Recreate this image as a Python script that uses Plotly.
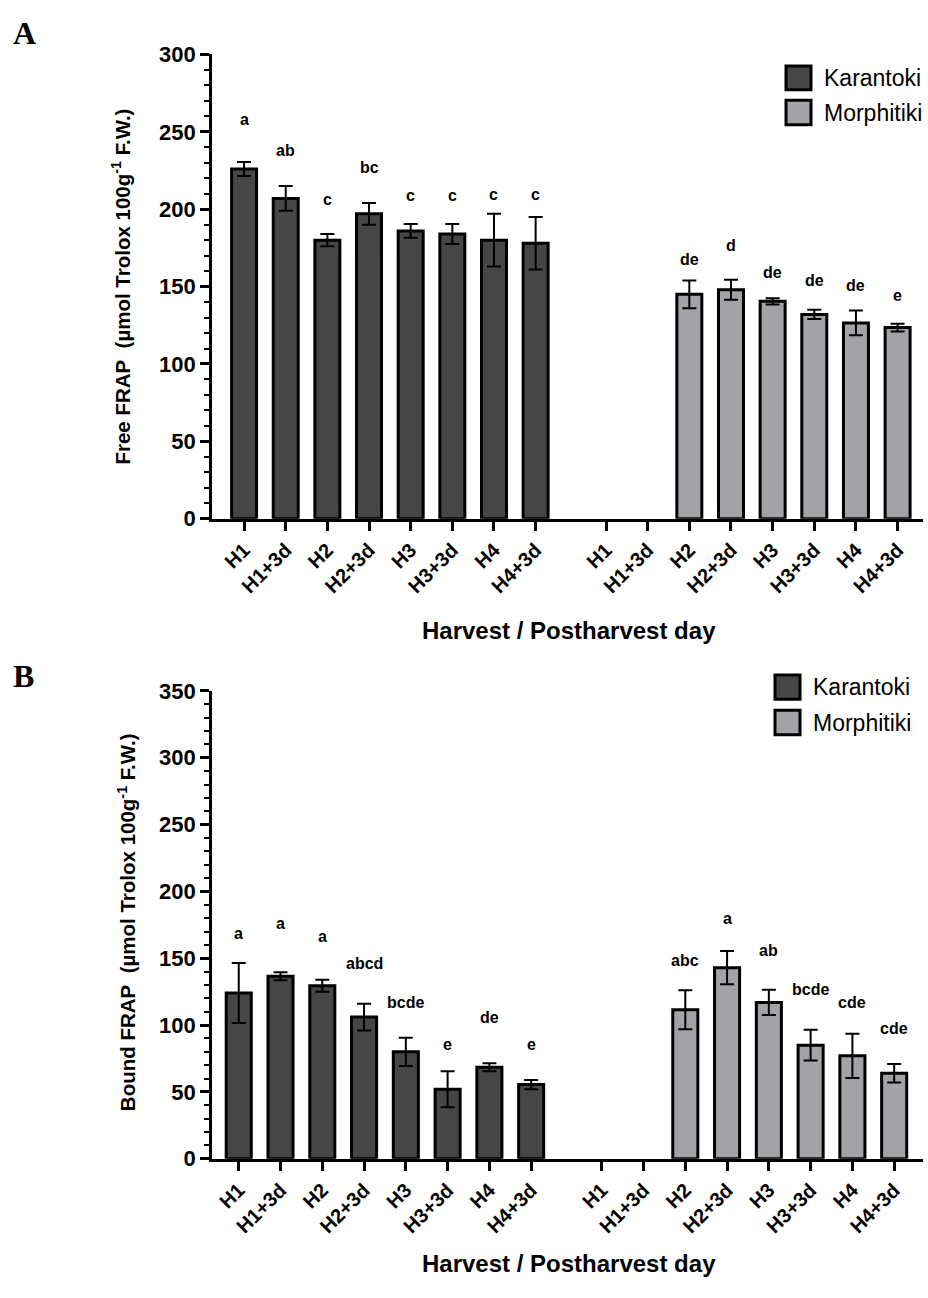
import plotly.graph_objects as go

# ---------------- data ----------------
categories = ["H1", "H1+3d", "H2", "H2+3d", "H3", "H3+3d", "H4", "H4+3d"]

free_karantoki = [226, 207, 180, 197, 186, 184, 180, 178]
free_karantoki_err = [4.5, 8, 4, 7, 4.5, 6.5, 17, 17]
free_morphitiki = [None, None, 145, 148, 140.5, 132, 126.5, 123.5]
free_morphitiki_err = [None, None, 9, 6.5, 2, 3, 8, 2.5]
free_k_letters = ["a", "ab", "c", "bc", "c", "c", "c", "c"]
free_m_letters = ["", "", "de", "d", "de", "de", "de", "e"]
free_k_letter_y = [258, 238, 206, 227, 209, 209, 209.5, 209.5]
free_m_letter_y = [None, None, 167.5, 176.5, 159, 154, 150.5, 144]

bound_karantoki = [124, 136.5, 129.5, 106, 80, 52, 68.5, 55.5]
bound_karantoki_err = [22.5, 3, 4.5, 10, 10.5, 13.5, 3, 3.5]
bound_morphitiki = [None, None, 111.5, 143, 117, 85, 77, 64]
bound_morphitiki_err = [None, None, 14.5, 12.5, 9.5, 11.5, 16.5, 7]
bound_k_letters = ["a", "a", "a", "abcd", "bcde", "e", "de", "e"]
bound_m_letters = ["", "", "abc", "a", "ab", "bcde", "cde", "cde"]
bound_k_letter_y = [168.5, 175.7, 166, 146.3, 117, 85.6, 105.4, 85.6]
bound_m_letter_y = [None, None, 148.7, 180, 156, 126.7, 117, 97.3]

series_names = ["Karantoki", "Morphitiki"]
colors = ["#464646", "#a3a3a7"]

# ---------------- layout helpers ----------------
W, H = 928, 1298
FONT = "Liberation Sans, Arial, Helvetica, sans-serif"
GROUP_OFFSET = 8.69
pos_k = [i for i in range(len(categories))]
pos_m = [i + GROUP_OFFSET for i in range(len(categories))]
tick_pos = pos_k + pos_m
tick_text = categories + categories


def px(x):
    return x / W


def py(y):
    return 1 - y / H


fig = go.Figure()

panels = [
    dict(xa="x", ya="y", k=free_karantoki, ke=free_karantoki_err,
         m=free_morphitiki, me=free_morphitiki_err,
         kl=free_k_letters, ml=free_m_letters,
         kly=free_k_letter_y, mly=free_m_letter_y),
    dict(xa="x2", ya="y2", k=bound_karantoki, ke=bound_karantoki_err,
         m=bound_morphitiki, me=bound_morphitiki_err,
         kl=bound_k_letters, ml=bound_m_letters,
         kly=bound_k_letter_y, mly=bound_m_letter_y),
]

annotations = []
shapes = []

for p in panels:
    for xs, ys, es, col, name in [(pos_k, p["k"], p["ke"], colors[0], series_names[0]),
                                  (pos_m, p["m"], p["me"], colors[1], series_names[1])]:
        fig.add_trace(go.Bar(
            x=xs, y=ys, name=name, xaxis=p["xa"], yaxis=p["ya"],
            width=0.6, showlegend=False,
            marker=dict(color=col, line=dict(color="black", width=3)),
            error_y=dict(type="data", array=es, visible=True,
                         color="black", thickness=2, width=7),
        ))
    for xs, labs, lys in [(pos_k, p["kl"], p["kly"]), (pos_m, p["ml"], p["mly"])]:
        for x, lab, ly in zip(xs, labs, lys):
            if lab and ly is not None:
                annotations.append(dict(
                    x=x, y=ly, xref=p["xa"], yref=p["ya"], text=lab,
                    showarrow=False, yanchor="middle", xanchor="center",
                    font=dict(family=FONT, size=16, color="black", weight="bold")))

axis_common = dict(
    showline=True, linecolor="black", linewidth=2.8, showgrid=False,
    zeroline=False, ticks="outside", tickcolor="black", tickwidth=2.6,
    ticklen=9, mirror=False,
)

x_dom = [px(212), px(923)]
xtick_font = dict(family=FONT, size=20, color="black", weight="bold")
ytick_font = dict(family=FONT, size=22, color="black", weight="bold")
minor_ticks = dict(dtick=10, ticks="outside", ticklen=5, tickwidth=2, tickcolor="black")

fig.update_layout(
    width=W, height=H,
    margin=dict(l=0, r=0, t=0, b=0),
    paper_bgcolor="white", plot_bgcolor="white",
    barmode="overlay",
    xaxis=dict(domain=x_dom, anchor="y", range=[-0.77, 16.3],
               tickvals=tick_pos, ticktext=tick_text, tickangle=-45,
               tickfont=xtick_font, **axis_common),
    yaxis=dict(domain=[py(516.7), py(43.3)], anchor="x", range=[0, 300],
               dtick=50, tick0=0, tickfont=ytick_font, minor=minor_ticks,
               **axis_common),
    xaxis2=dict(domain=x_dom, anchor="y2", range=[-0.64, 16.38],
                tickvals=tick_pos, ticktext=tick_text, tickangle=-45,
                tickfont=xtick_font, **axis_common),
    yaxis2=dict(domain=[py(1169.3), py(692.3)], anchor="x2", range=[0, 350],
                dtick=50, tick0=0, tickfont=ytick_font, minor=minor_ticks,
                **axis_common),
)

# axis titles
title_font = dict(family=FONT, color="black", weight="bold")
common_anno = dict(xref="paper", yref="paper", showarrow=False,
                   xanchor="center", yanchor="middle")
annotations += [
    dict(x=px(569), y=py(631), text="Harvest / Postharvest day",
         font=dict(size=24, **title_font), **common_anno),
    dict(x=px(569), y=py(1276), text="Harvest / Postharvest day",
         font=dict(size=24, **title_font), **common_anno),
    dict(x=px(121), y=py(280), textangle=-90,
         text="Free FRAP\u00a0 (µmol Trolox 100g<sup>-1</sup> F.W.)",
         font=dict(size=20.5, **title_font), **common_anno),
    dict(x=px(127), y=py(928), textangle=-90,
         text="Bound FRAP\u00a0 (µmol Trolox 100g<sup>-1</sup> F.W.)",
         font=dict(size=20.5, **title_font), **common_anno),
    dict(x=px(24), y=py(21), text="A",
         font=dict(family="Liberation Serif, Times New Roman, serif", size=32,
                   color="black", weight="bold"), **common_anno),
    dict(x=px(23), y=py(677), text="B",
         font=dict(family="Liberation Serif, Times New Roman, serif", size=32,
                   color="black", weight="bold"), **common_anno),
]

# custom legends
legend_specs = [
    (786, [(55, 79.3), (90, 115)], 822),
    (775, [(676, 700.7), (712, 737)], 811),
]
for x0, rows, tx in legend_specs:
    for (y0, y1), col, name in zip(rows, colors, series_names):
        shapes.append(dict(type="rect", xref="paper", yref="paper",
                           x0=px(x0), x1=px(x0 + 25), y0=py(y1), y1=py(y0),
                           fillcolor=col, line=dict(color="black", width=3)))
        annotations.append(dict(x=px(tx), y=py((y0 + y1) / 2), xref="paper", yref="paper",
                                text=name, showarrow=False, xanchor="left",
                                yanchor="middle",
                                font=dict(family=FONT, size=23, color="black")))

fig.update_layout(annotations=annotations, shapes=shapes)
fig.write_html("out.html")
